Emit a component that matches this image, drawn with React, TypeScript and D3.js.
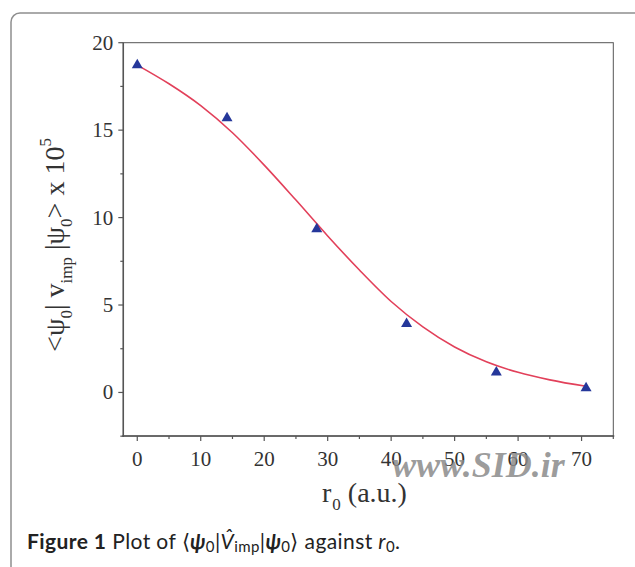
import React from "react";
import * as d3 from "d3";

const xPoints = [0, 14.14, 28.28, 42.43, 56.57, 70.71];
const yPoints = [18.77, 15.74, 9.39, 3.97, 1.2, 0.3];

const fitX = [0, 5, 10, 15, 20, 25, 30, 35, 40, 45, 50, 55, 60, 65, 70.71];
const fitY = [18.72, 17.65, 16.4, 14.85, 13.0, 11.0, 8.95, 7.0, 5.2, 3.75, 2.6, 1.75, 1.15, 0.72, 0.35];

const xTicks = [0, 10, 20, 30, 40, 50, 60, 70];
const xMinor = [5, 15, 25, 35, 45, 55, 65, 75];
const yTicks = [0, 5, 10, 15, 20];
const yMinor = [-2.5, 2.5, 7.5, 12.5, 17.5];

const W = 635;
const H = 567;
const left = 123.3;
const right = 613.3;
const top = 42.7;
const bottom = 436;

export default function App() {
  const x = d3.scaleLinear().domain([-2.2, 75]).range([left, right]);
  const y = d3.scaleLinear().domain([-2.49, 20]).range([bottom, top]);

  const fitData = fitX.map((v, i) => [v, fitY[i]] as [number, number]);
  const line = d3
    .line<[number, number]>()
    .x((d) => x(d[0]))
    .y((d) => y(d[1]))
    .curve(d3.curveMonotoneX);

  const axisColor = "#555";
  const textColor = "#333";
  const serif = "'Liberation Serif', 'DejaVu Serif', serif";
  const sans = "Lato, 'Open Sans', 'Noto Sans', sans-serif";

  return (
    <svg
      width={W}
      height={H}
      viewBox={`0 0 ${W} ${H}`}
      style={{ position: "absolute", left: 0, top: 0, background: "#fff" }}
    >
      <rect x={0} y={0} width={W} height={H} fill="#fff" />
      {/* outer box */}
      <rect x={11} y={13} width={800} height={800} rx={9} fill="none" stroke="#8f8f8f" strokeWidth={1.5} />

      {/* plot frame */}
      <rect x={left} y={top} width={right - left} height={bottom - top} fill="none" stroke={axisColor} strokeWidth={1} />
      <line x1={left - 1} x2={right + 1} y1={bottom} y2={bottom} stroke={axisColor} strokeWidth={1.5} />
      <line x1={left} x2={left} y1={top} y2={bottom + 1} stroke={axisColor} strokeWidth={1.5} />

      {/* x ticks */}
      {xTicks.map((t) => (
        <g key={"xt" + t}>
          <line x1={x(t)} x2={x(t)} y1={bottom} y2={bottom + 5} stroke={axisColor} strokeWidth={1.2} />
          <text x={x(t)} y={bottom + 30} textAnchor="middle" fontFamily={serif} fontSize={21} fill={textColor}>
            {t}
          </text>
        </g>
      ))}
      {xMinor.map((t) => (
        <line key={"xm" + t} x1={x(t)} x2={x(t)} y1={bottom} y2={bottom + 3} stroke={axisColor} strokeWidth={1.2} />
      ))}

      {/* y ticks */}
      {yTicks.map((t) => (
        <g key={"yt" + t}>
          <line x1={left} x2={left - 5} y1={y(t)} y2={y(t)} stroke={axisColor} strokeWidth={1.2} />
          <text x={left - 10} y={y(t) + 7} textAnchor="end" fontFamily={serif} fontSize={21} fill={textColor}>
            {t}
          </text>
        </g>
      ))}
      {yMinor.map((t) => (
        <line key={"ym" + t} x1={left} x2={left - 3} y1={y(t)} y2={y(t)} stroke={axisColor} strokeWidth={1.2} />
      ))}

      {/* fitted curve */}
      <path d={line(fitData) || ""} fill="none" stroke="#e2405a" strokeWidth={1.6} />

      {/* data points */}
      {xPoints.map((v, i) => (
        <path
          key={"p" + i}
          transform={`translate(${x(v)},${y(yPoints[i])})`}
          d="M0,-5.5 L5.5,4 L-5.5,4 Z"
          fill="#25379a"
        />
      ))}

      {/* watermark */}
      <text
        x={392}
        y={477}
        fontFamily={serif}
        fontSize={36}
        fontWeight="bold"
        fontStyle="italic"
        fill="#8a8a8a"
        fillOpacity={0.85}
      >
        www.SID.ir
      </text>

      {/* x axis label */}
      <text x={322} y={502} fontFamily={serif} fontSize={28} fill={textColor}>
        r<tspan fontSize={17} dy={8} dx={1}>0</tspan>
        <tspan dy={-8}> (a.u.)</tspan>
      </text>

      {/* y axis label */}
      <text
        transform="translate(64,245) rotate(-90)"
        textAnchor="middle"
        fontFamily={serif}
        fontSize={28}
        fill={textColor}
      >
        {"<ψ"}
        <tspan fontSize={17} dy={8}>0</tspan>
        <tspan dy={-8}>{"| v"}</tspan>
        <tspan fontSize={17} dy={8}>imp</tspan>
        <tspan dy={-8}>{" |ψ"}</tspan>
        <tspan fontSize={17} dy={8}>0</tspan>
        <tspan dy={-8}>{"> x 10"}</tspan>
        <tspan fontSize={17} dy={-13}>5</tspan>
      </text>

      {/* caption */}
      <text x={27} y={549} fontFamily={sans} fontSize={21} fill="#222" textLength={373} lengthAdjust="spacing">
        <tspan fontWeight="bold">Figure 1</tspan>
        <tspan> Plot of ⟨</tspan>
        <tspan fontStyle="italic" fontWeight="bold">ψ</tspan>
        <tspan fontSize={15} dy={3}>0</tspan>
        <tspan dy={-3}>|</tspan>
        <tspan fontStyle="italic">V̂</tspan>
        <tspan fontSize={15} dy={3}>imp</tspan>
        <tspan dy={-3}>|</tspan>
        <tspan fontStyle="italic" fontWeight="bold">ψ</tspan>
        <tspan fontSize={15} dy={3}>0</tspan>
        <tspan dy={-3}>⟩ against </tspan>
        <tspan fontStyle="italic">r</tspan>
        <tspan fontSize={15} dy={3}>0</tspan>
        <tspan dy={-3}>.</tspan>
      </text>
    </svg>
  );
}
